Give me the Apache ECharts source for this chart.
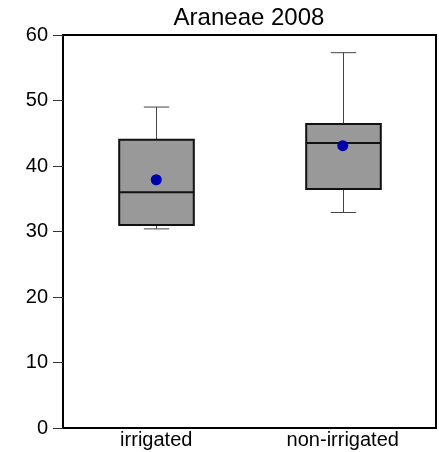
<!DOCTYPE html>
<html>
<head>
<meta charset="utf-8">
<script src="https://cdn.jsdelivr.net/npm/echarts@6/dist/echarts.min.js"></script>
<style>html,body{margin:0;padding:0;background:#fff;}#chart{width:439px;height:452px;}</style>
</head>
<body>
<div id="chart"></div>
<script>
const titleText = 'Araneae 2008';
const categories = ['irrigated', 'non-irrigated'];
const lowValues = [30.4, 32.9];
const q1Values = [31.0, 36.5];
const medianValues = [36.0, 43.5];
const q3Values = [44.0, 46.4];
const highValues = [49.0, 57.3];
const meanValues = [37.9, 43.1];
const yMin = 0, yMax = 60, yStep = 10;

const FONT = '"Liberation Sans", Arial, Helvetica, sans-serif';
const boxData = categories.map((c, i) => [i, lowValues[i], q1Values[i], medianValues[i], q3Values[i], highValues[i]]);
const meanData = categories.map((c, i) => [i, meanValues[i]]);

const chart = echarts.init(document.getElementById('chart'), null, {renderer: 'canvas'});
chart.setOption({
  animation: false,
  backgroundColor: '#fff',
  title: {
    text: titleText,
    left: 249, top: 6, padding: 0,
    textAlign: 'center',
    textStyle: {fontFamily: FONT, fontSize: 24, fontWeight: 'normal', color: '#000'}
  },
  grid: {left: 63, right: 3, top: 35, bottom: 24, show: true, borderColor: '#000', borderWidth: 2, backgroundColor: 'transparent'},
  xAxis: {
    type: 'category', data: categories, boundaryGap: true,
    axisLine: {show: true, lineStyle: {color: '#000', width: 2}},
    axisTick: {show: false},
    axisLabel: {fontFamily: FONT, fontSize: 20, color: '#000', margin: 2},
    splitLine: {show: false}
  },
  yAxis: {
    type: 'value', min: yMin, max: yMax, interval: yStep,
    axisLine: {show: true, lineStyle: {color: '#000', width: 2}},
    axisTick: {show: true, length: 10, lineStyle: {color: '#333', width: 1}},
    axisLabel: {fontFamily: FONT, fontSize: 20, color: '#000', margin: 15},
    splitLine: {show: false}
  },
  series: [
    {
      type: 'custom',
      data: boxData,
      encode: {x: 0, y: [1, 2, 3, 4, 5]},
      renderItem: function (params, api) {
        const idx = api.value(0);
        const low = api.coord([idx, api.value(1)]);
        const q1 = api.coord([idx, api.value(2)]);
        const med = api.coord([idx, api.value(3)]);
        const q3 = api.coord([idx, api.value(4)]);
        const high = api.coord([idx, api.value(5)]);
        const band = api.size([1, 0])[0];
        const hw = band * 0.2, cw = band * 0.068;
        const x = Math.round(low[0]) + 0.5;
        const wStyle = {stroke: '#444', lineWidth: 1};
        return {
          type: 'group',
          children: [
            {type: 'line', shape: {x1: x, y1: q3[1], x2: x, y2: high[1]}, style: wStyle},
            {type: 'line', shape: {x1: x, y1: q1[1], x2: x, y2: low[1]}, style: wStyle},
            {type: 'line', shape: {x1: x - cw, y1: high[1], x2: x + cw, y2: high[1]}, style: wStyle},
            {type: 'line', shape: {x1: x - cw, y1: low[1], x2: x + cw, y2: low[1]}, style: wStyle},
            {type: 'rect', shape: {x: x - hw, y: q3[1], width: 2 * hw, height: q1[1] - q3[1]}, style: {fill: '#999999', stroke: '#111', lineWidth: 2}},
            {type: 'line', shape: {x1: x - hw, y1: med[1], x2: x + hw, y2: med[1]}, style: {stroke: '#111', lineWidth: 2}}
          ]
        };
      },
      z: 2
    },
    {
      type: 'scatter',
      data: meanData,
      symbol: 'circle',
      symbolSize: 11,
      itemStyle: {color: '#0000AA', opacity: 1},
      z: 3
    }
  ]
});
</script>
</body>
</html>
